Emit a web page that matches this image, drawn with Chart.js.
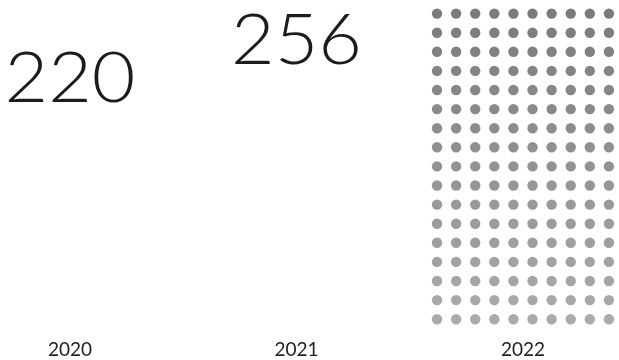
<!DOCTYPE html>
<html>
<head>
<meta charset="utf-8">
<script src="https://cdn.jsdelivr.net/npm/chart.js@4.4.1/dist/chart.umd.min.js"></script>
<style>
    html, body { margin: 0; padding: 0; background: #ffffff; }
    #wrapper { width: 619px; height: 360px; }
</style>
</head>
<body>
<div id="wrapper"><canvas id="myChart"></canvas></div>
<script>
"use strict"

let years = ["2020", "2021", "2022"];
let values = [220, 256, 170];
let kinds = ["number", "number", "dots"];

let dotCols = 10;
let dotGap = 19.1;
let dotRadius = 5.2;

// draws the big numbers and the dot grid at the scale positions
let pictoPlugin = {
    id: "picto",
    afterDatasetsDraw(chart) {
        let ctx = chart.ctx;
        let x = chart.scales.x;
        let y = chart.scales.y;
        for (let i = 0; i < years.length; i++) {
            let cx = x.getPixelForValue(i);
            if (kinds[i] == "number") {
                ctx.save();
                ctx.translate(cx, y.getPixelForValue(values[i]));
                ctx.scale(1.06, 1);
                ctx.font = "300 71px Lato";
                ctx.fillStyle = "#1c1c1c";
                ctx.textAlign = "center";
                ctx.textBaseline = "alphabetic";
                ctx.fillText(String(values[i]), 0, 0);
                ctx.restore();
            }
            else {
                let rows = Math.ceil(values[i] / dotCols);
                let bottom = y.getPixelForValue(0) - 15;
                ctx.save();
                for (let n = 0; n < values[i]; n++) {
                    let r = Math.floor(n / dotCols);
                    let c = n % dotCols;
                    let px = cx + (c - (dotCols - 1) / 2) * dotGap;
                    let py = bottom - r * dotGap;
                    let a = 0.42 + 0.24 * r / (rows - 1);
                    ctx.beginPath();
                    ctx.arc(px, py, dotRadius, 0, Math.PI * 2);
                    ctx.fillStyle = "rgba(55,55,55," + a + ")";
                    ctx.fill();
                }
                ctx.restore();
            }
        }
    }
};

let points = [];
for (let i = 0; i < years.length; i++) {
    points.push({ x: i, y: values[i] });
}

let ctx = document.getElementById("myChart").getContext("2d");
let myChart = new Chart(ctx, {
    type: "line",
    data: {
        datasets: [{
            data: points,
            showLine: false,
            pointRadius: 0,
            pointHoverRadius: 0
        }]
    },
    options: {
        responsive: true,
        maintainAspectRatio: false,
        animation: false,
        layout: { padding: 0 },
        plugins: {
            legend: { display: false },
            tooltip: { enabled: false }
        },
        scales: {
            x: {
                type: "linear",
                min: -0.309,
                max: 2.424,
                afterBuildTicks: function (scale) {
                    scale.ticks = years.map(function (v, i) { return { value: i }; });
                },
                ticks: {
                    autoSkip: false,
                    maxRotation: 0,
                    padding: 5,
                    color: "#222222",
                    font: { family: "Lato", size: 19, lineHeight: 0.526 },
                    callback: function (v) { return years[v]; }
                },
                grid: { display: false, drawTicks: false },
                border: { display: false }
            },
            y: {
                display: false,
                min: -5.5,
                max: 316.6
            }
        }
    },
    plugins: [pictoPlugin]
});
</script>
</body>
</html>
